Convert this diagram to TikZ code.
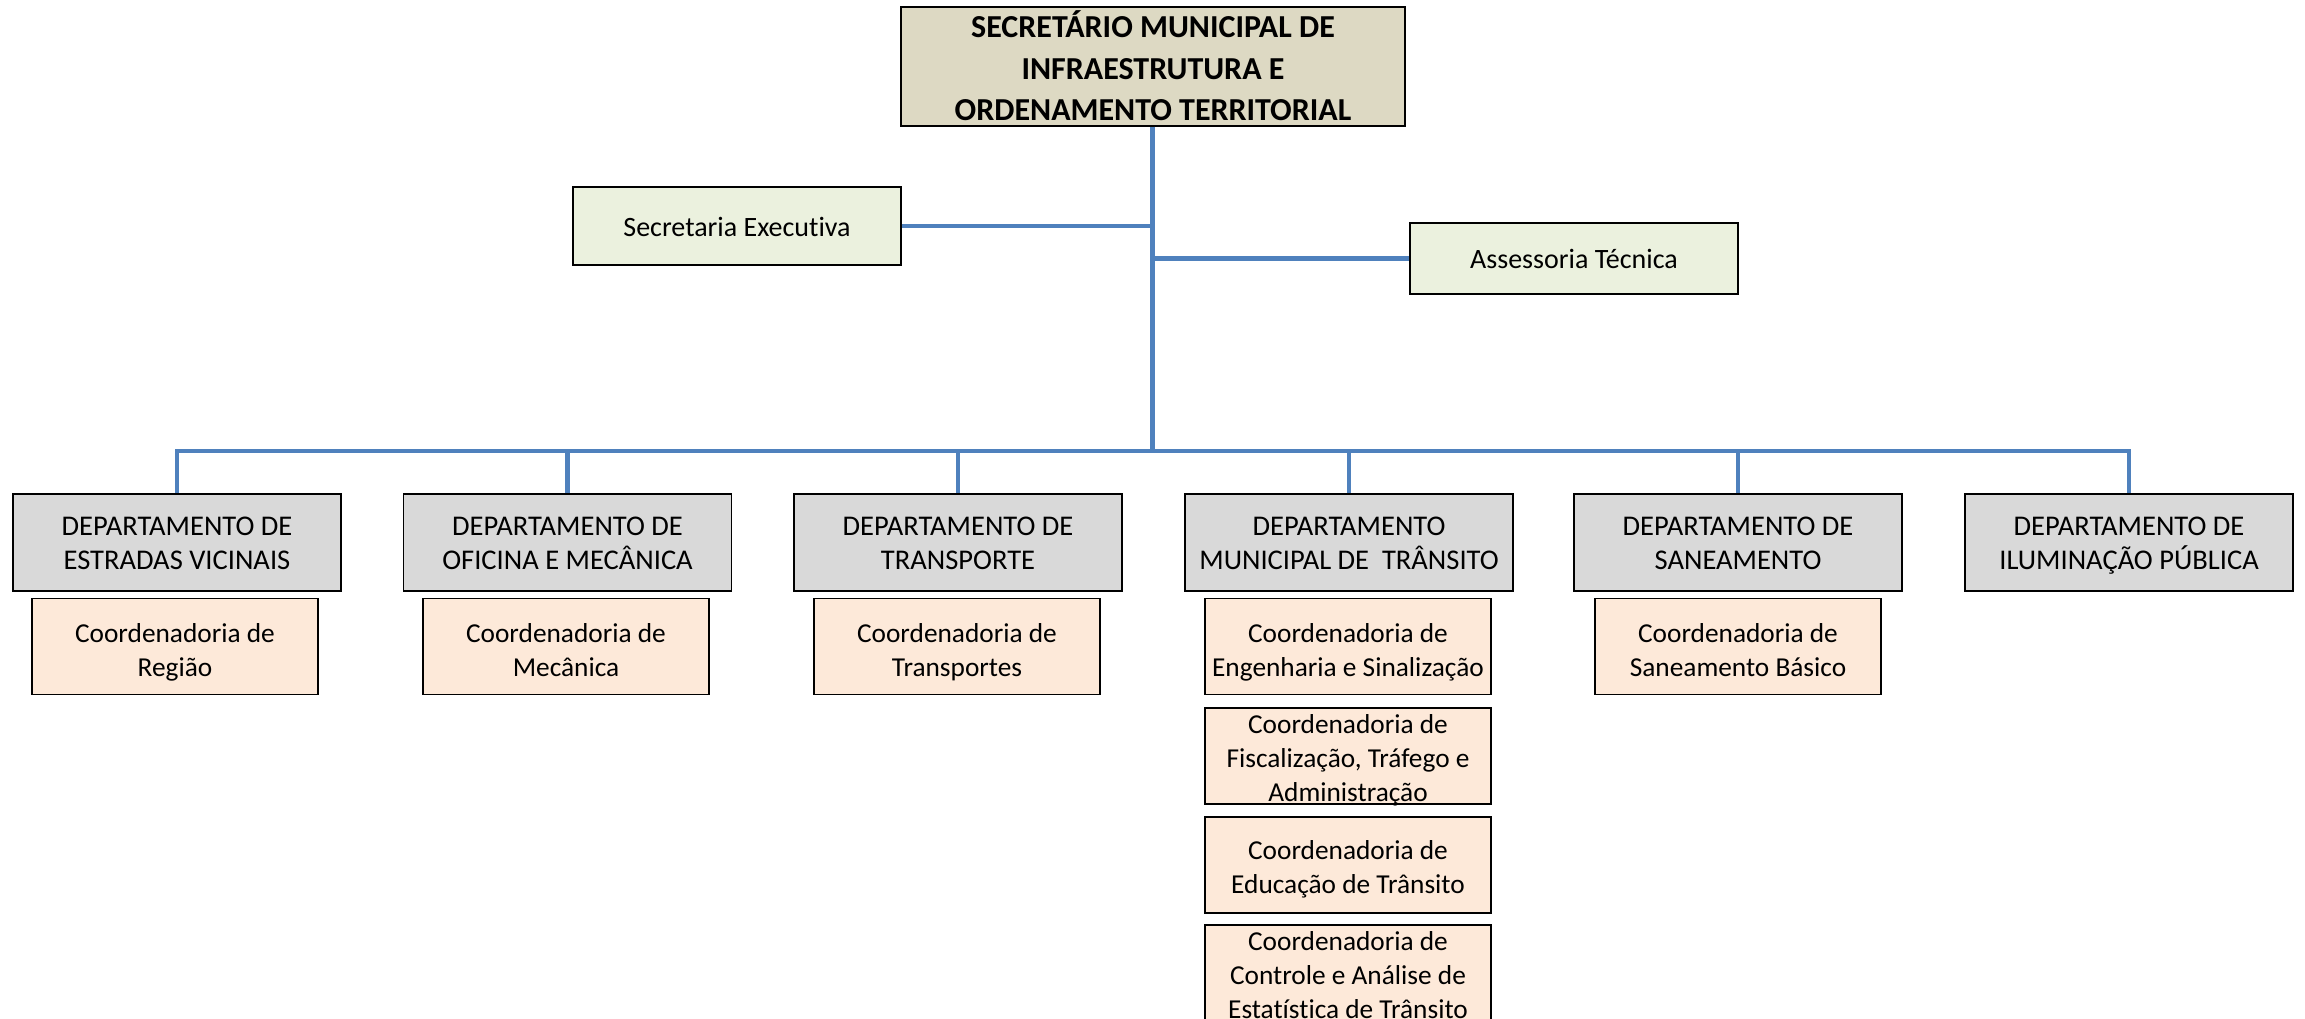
\documentclass[tikz,border=0pt]{standalone}
\usepackage{fontspec}
\setmainfont[Ligatures=NoCommon]{Carlito}
\newcommand\tdrop{0pt}
\newcommand\boxtxt[1]{\raisebox{-\tdrop}[0pt][0pt]{\begin{tabular}{@{}c@{}}#1\end{tabular}}}
\begin{document}
\begin{tikzpicture}[x=0.75pt,y=-0.75pt,
  drop/.code={\def\tdrop{#1}},
  box/.style={draw=black,line width=1.2pt,inner sep=0pt},
  topbox/.style={box,drop=9.4pt,fill=topfill,minimum width=378pt,minimum height=89pt,font=\fontsize{24}{31}\selectfont\bfseries},
  sidebox/.style={box,drop=7.5pt,fill=sidefill,minimum width=246pt,font=\fontsize{21}{26}\selectfont},
  deptbox/.style={box,drop=7.4pt,fill=deptfill,minimum width=246pt,minimum height=72.75pt,font=\fontsize{21.4}{25.5}\selectfont},
  coordbox/.style={box,drop=9.6pt,fill=coordfill,minimum width=214.5pt,minimum height=72pt,font=\fontsize{20.5}{25.5}\selectfont},
  link/.style={draw=linkblue,line width=3.6pt}]
\definecolor{topfill}{HTML}{DDD9C3}
\definecolor{sidefill}{HTML}{EBF1DE}
\definecolor{deptfill}{HTML}{D9D9D9}
\definecolor{coordfill}{HTML}{FDE9D9}
\definecolor{linkblue}{HTML}{4F81BD}
\useasboundingbox (0,0) rectangle (2305,1019);
\clip (0,0) rectangle (2305,1019);
\fill[white] (0,0) rectangle (2305,1019);

\node[topbox] (top) at (1153,66.5) {\boxtxt{SECRETÁRIO MUNICIPAL DE\\INFRAESTRUTURA E\\ORDENAMENTO TERRITORIAL}};
\node[sidebox,minimum height=58.5pt] (sec) at (737,226) {\boxtxt{Secretaria Executiva}};
\node[sidebox,minimum height=53.25pt] (ass) at (1574,258.5) {\boxtxt{Assessoria Técnica}};

\node[deptbox] (d1) at (177,542.5) {\boxtxt{DEPARTAMENTO DE\\ESTRADAS VICINAIS}};
\node[deptbox] (d2) at (567.5,542.5) {\boxtxt{DEPARTAMENTO DE\\OFICINA E MECÂNICA}};
\node[deptbox] (d3) at (958,542.5) {\boxtxt{DEPARTAMENTO DE\\TRANSPORTE}};
\node[deptbox] (d4) at (1349,542.5) {\boxtxt{DEPARTAMENTO\\MUNICIPAL DE\ \ TRÂNSITO}};
\node[deptbox] (d5) at (1738,542.5) {\boxtxt{DEPARTAMENTO DE\\SANEAMENTO}};
\node[deptbox] (d6) at (2129,542.5) {\boxtxt{DEPARTAMENTO DE\\ILUMINAÇÃO PÚBLICA}};

\node[coordbox] (c1) at (175,646.5) {\boxtxt{Coordenadoria de\\Região}};
\node[coordbox] (c2) at (566,646.5) {\boxtxt{Coordenadoria de\\Mecânica}};
\node[coordbox] (c3) at (957,646.5) {\boxtxt{Coordenadoria de\\Transportes}};
\node[coordbox] (c4a) at (1348,646.5) {\boxtxt{Coordenadoria de\\Engenharia e Sinalização}};
\node[coordbox] (c5) at (1738,646.5) {\boxtxt{Coordenadoria de\\Saneamento Básico}};
\node[coordbox,drop=8.4pt] (c4b) at (1348,756) {\boxtxt{Coordenadoria de\\Fiscalização, Tráfego e\\Administração}};
\node[coordbox,drop=8.4pt] (c4c) at (1348,865) {\boxtxt{Coordenadoria de\\Educação de Trânsito}};
\node[coordbox,drop=7.3pt,minimum height=75pt] (c4d) at (1348,975) {\boxtxt{Coordenadoria de\\Controle e Análise de\\Estatística de Trânsito}};

\coordinate (bus) at (1152.5,451);
\draw[link] (top.south -| bus) -- (bus);
\draw[link] (sec.east) -- (sec.east -| bus);
\draw[link] (ass.west) -- (ass.west -| bus);
\draw[link] (d1.north) -- (d1.north |- bus) -- (d6.north |- bus) -- (d6.north);
\foreach \d in {d2,d3,d4,d5}{\draw[link] (\d.north) -- (\d.north |- bus);}
\end{tikzpicture}
\end{document}
